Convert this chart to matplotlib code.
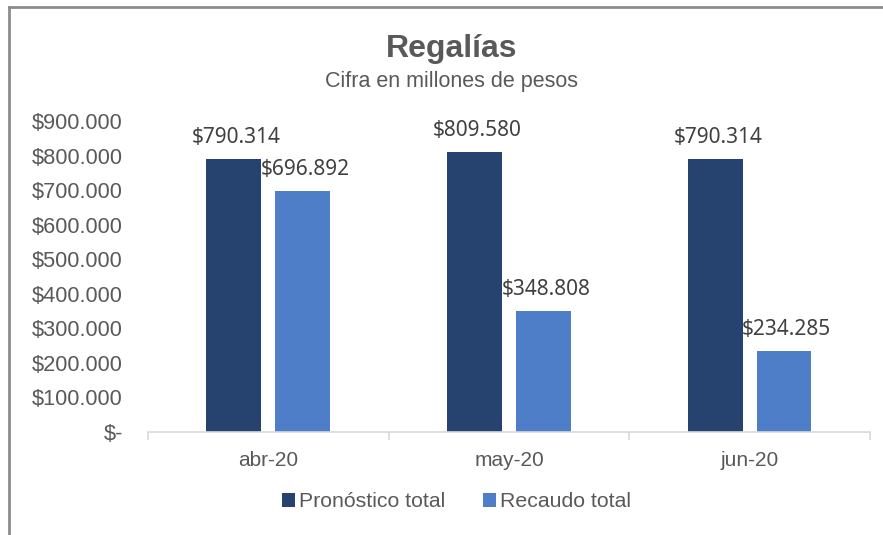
import numpy as np
import matplotlib.pyplot as plt
from matplotlib.lines import Line2D
from matplotlib.ticker import FuncFormatter

# data (millones de pesos)
meses = ['abr-20', 'may-20', 'jun-20']
pronostico = [790314, 809580, 790314]
recaudo = [696892, 348808, 234285]
series = ['Pronóstico total', 'Recaudo total']

c_dark = '#264370'
c_light = '#4F7EC9'
gris = '#595959'

plt.rcParams['font.family'] = ['Liberation Sans', 'DejaVu Sans']

fig = plt.figure(figsize=(8.83, 5.35), dpi=100)
ax = fig.add_axes([0.1676, 0.1925, 0.8176, 0.5813])

x = np.arange(len(meses))
w = 0.228
off = 0.143
b1 = ax.bar(x - off, pronostico, w, color=c_dark, label=series[0])
b2 = ax.bar(x + off, recaudo, w, color=c_light, label=series[1])

def fmt_val(v):
    return '$' + f'{v:,.0f}'.replace(',', '.')

for bars in (b1, b2):
    for r in bars:
        ax.annotate(fmt_val(r.get_height()), (r.get_x() + r.get_width() / 2, r.get_height()),
                    xytext=(2, 8), textcoords='offset points', ha='center', va='bottom',
                    fontsize=15, color='#404040', family=['Noto Sans', 'DejaVu Sans'])

ax.set_ylim(0, 900000)
ax.set_xlim(-0.5, 2.5)
ax.set_yticks(np.arange(0, 900001, 100000))
ax.yaxis.set_major_formatter(FuncFormatter(lambda v, p: '$-' if v == 0 else fmt_val(v)))
ax.set_xticks(x)
ax.set_xticklabels(meses)
ax.set_xticks([-0.5, 0.5, 1.5, 2.5], minor=True)
ax.tick_params(axis='x', which='major', length=0, pad=14, labelsize=15, labelcolor=gris)
ax.tick_params(axis='x', which='minor', length=6, color='#D9D9D9', width=1.2)
ax.tick_params(axis='y', length=0, pad=18, labelsize=15.7, labelcolor=gris)

for s in ['top', 'right', 'left']:
    ax.spines[s].set_visible(False)
ax.spines['bottom'].set_color('#D9D9D9')
ax.spines['bottom'].set_linewidth(1.2)

fig.text(0.511, 0.893, 'Regalías', ha='center', va='baseline', fontsize=23,
         fontweight='bold', color=gris)
fig.text(0.511, 0.838, 'Cifra en millones de pesos', ha='center', va='baseline',
         fontsize=15.5, color=gris)

fig.legend(handles=[b1, b2], loc='center', bbox_to_anchor=(0.517, 0.062), ncol=2,
           frameon=False, fontsize=15.3, handlelength=0.6, handleheight=0.6,
           handletextpad=0.2, columnspacing=1.8, labelcolor=gris)

# chart border (left & top)
fig.add_artist(Line2D([0.0102, 0.0102], [0, 0.987], transform=fig.transFigure,
                      color='#8C8C8C', lw=2))
fig.add_artist(Line2D([0.0102, 1], [0.987, 0.987], transform=fig.transFigure,
                      color='#8C8C8C', lw=2))

fig.savefig('out.png', dpi=100)
